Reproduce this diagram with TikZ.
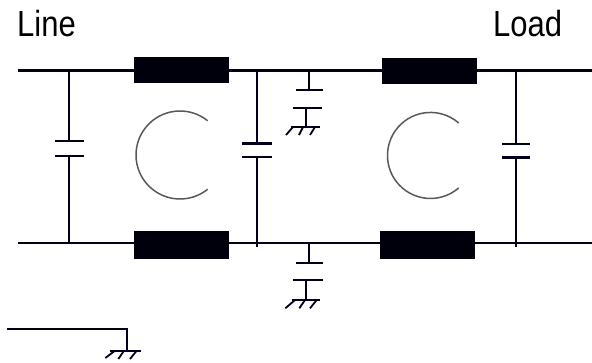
\documentclass[tikz,border=0pt]{standalone}
\usepackage{graphicx}
\usepackage{fontspec}
\setmainfont{Liberation Sans}
\tikzset{
  wire/.style={line width=2.4pt,black!90!blue},
  plate/.style={line width=2.4pt,black!90!blue},
  tick/.style={line width=1.8pt,black!90!blue},
  coil/.style={fill=black!95!blue,draw=none,inner sep=0pt,outer sep=0pt,shape=rectangle},
  ring/.style={line width=1.5pt,black!65},
  lbl/.style={font=\fontsize{31}{31}\selectfont,inner sep=0pt,anchor=base west}
}
\begin{document}
\begin{tikzpicture}[x=1pt,y=-1pt]
\useasboundingbox (0,0) rectangle (592,362);
\node[lbl] (line) at (17,36) {\scalebox{1}[1.17]{Line}};
\node[lbl] (load) at (493,36.5) {\scalebox{1}[1.17]{Load}};
% rails
\coordinate (t0) at (18,70.5); \coordinate (t1) at (592,70.5);
\coordinate (b0) at (18,243); \coordinate (b1) at (592,243);
\draw[wire] (t0) -- (t1);
\draw[wire] (b0) -- (b1);
\node[coil,minimum width=95pt,minimum height=26pt] (c1) at (181.2,70.3) {};
\node[coil,minimum width=95pt,minimum height=26pt] (c2) at (429.7,70.5) {};
\node[coil,minimum width=95pt,minimum height=28pt] (c3) at (181.2,245) {};
\node[coil,minimum width=95pt,minimum height=28pt] (c4) at (427.5,245) {};
% shunt capacitors
\draw[wire] (68.7,70.5) -- (68.7,141) (68.7,156) -- (68.7,243);
\draw[plate] (55,141) -- (84,141) (55,155.7) -- (84,155.7);
\draw[wire] (256.7,70.5) -- (256.7,143.3) (256.7,157) -- (256.7,247);
\draw[plate] (242,143.3) -- (272,143.3) (242,157) -- (272,157);
\draw[wire] (515.7,70.5) -- (515.7,143.7) (515.7,157.3) -- (515.7,247);
\draw[plate] (502,143.7) -- (530,143.7) (502,157.3) -- (530,157.3);
% top Y capacitor
\draw[wire] (309,70.5) -- (309,89.7);
\draw[plate] (295.7,89.7) -- (322.7,89.7);
\draw[plate] (292.7,108) -- (322.3,108);
\draw[wire] (305.7,108) -- (305.7,126.7);
\draw[plate] (291,126.7) -- (320,126.7);
\draw[tick] (293,127) -- (286,135) (303,127) -- (299,135) (315,127) -- (310,135);
% bottom Y capacitor
\draw[wire] (309,243) -- (309,263);
\draw[plate] (295.7,263) -- (322.7,263);
\draw[plate] (293,279.7) -- (322.7,279.7);
\draw[wire] (305.7,279.7) -- (305.7,300);
\draw[plate] (291.7,300) -- (320,300);
\draw[tick] (295,300) -- (285.3,308.3) (305,300) -- (299.3,308.3) (316.7,300) -- (310,308.3);
% chassis
\draw[wire] (7.3,328.7) -- (127,328.7) -- (127,350.7);
\draw[plate] (110,350.7) -- (140.7,350.7);
\draw[tick] (115,350.7) -- (105.3,358) (124,350.7) -- (118.3,359) (136.7,350.7) -- (130,359);
% rings
\draw[ring] (207.7,120.8) arc[start angle=-51,end angle=-309,radius=44];
\draw[ring] (458.7,123) arc[start angle=-49,end angle=-311,radius=43];
\end{tikzpicture}
\end{document}
